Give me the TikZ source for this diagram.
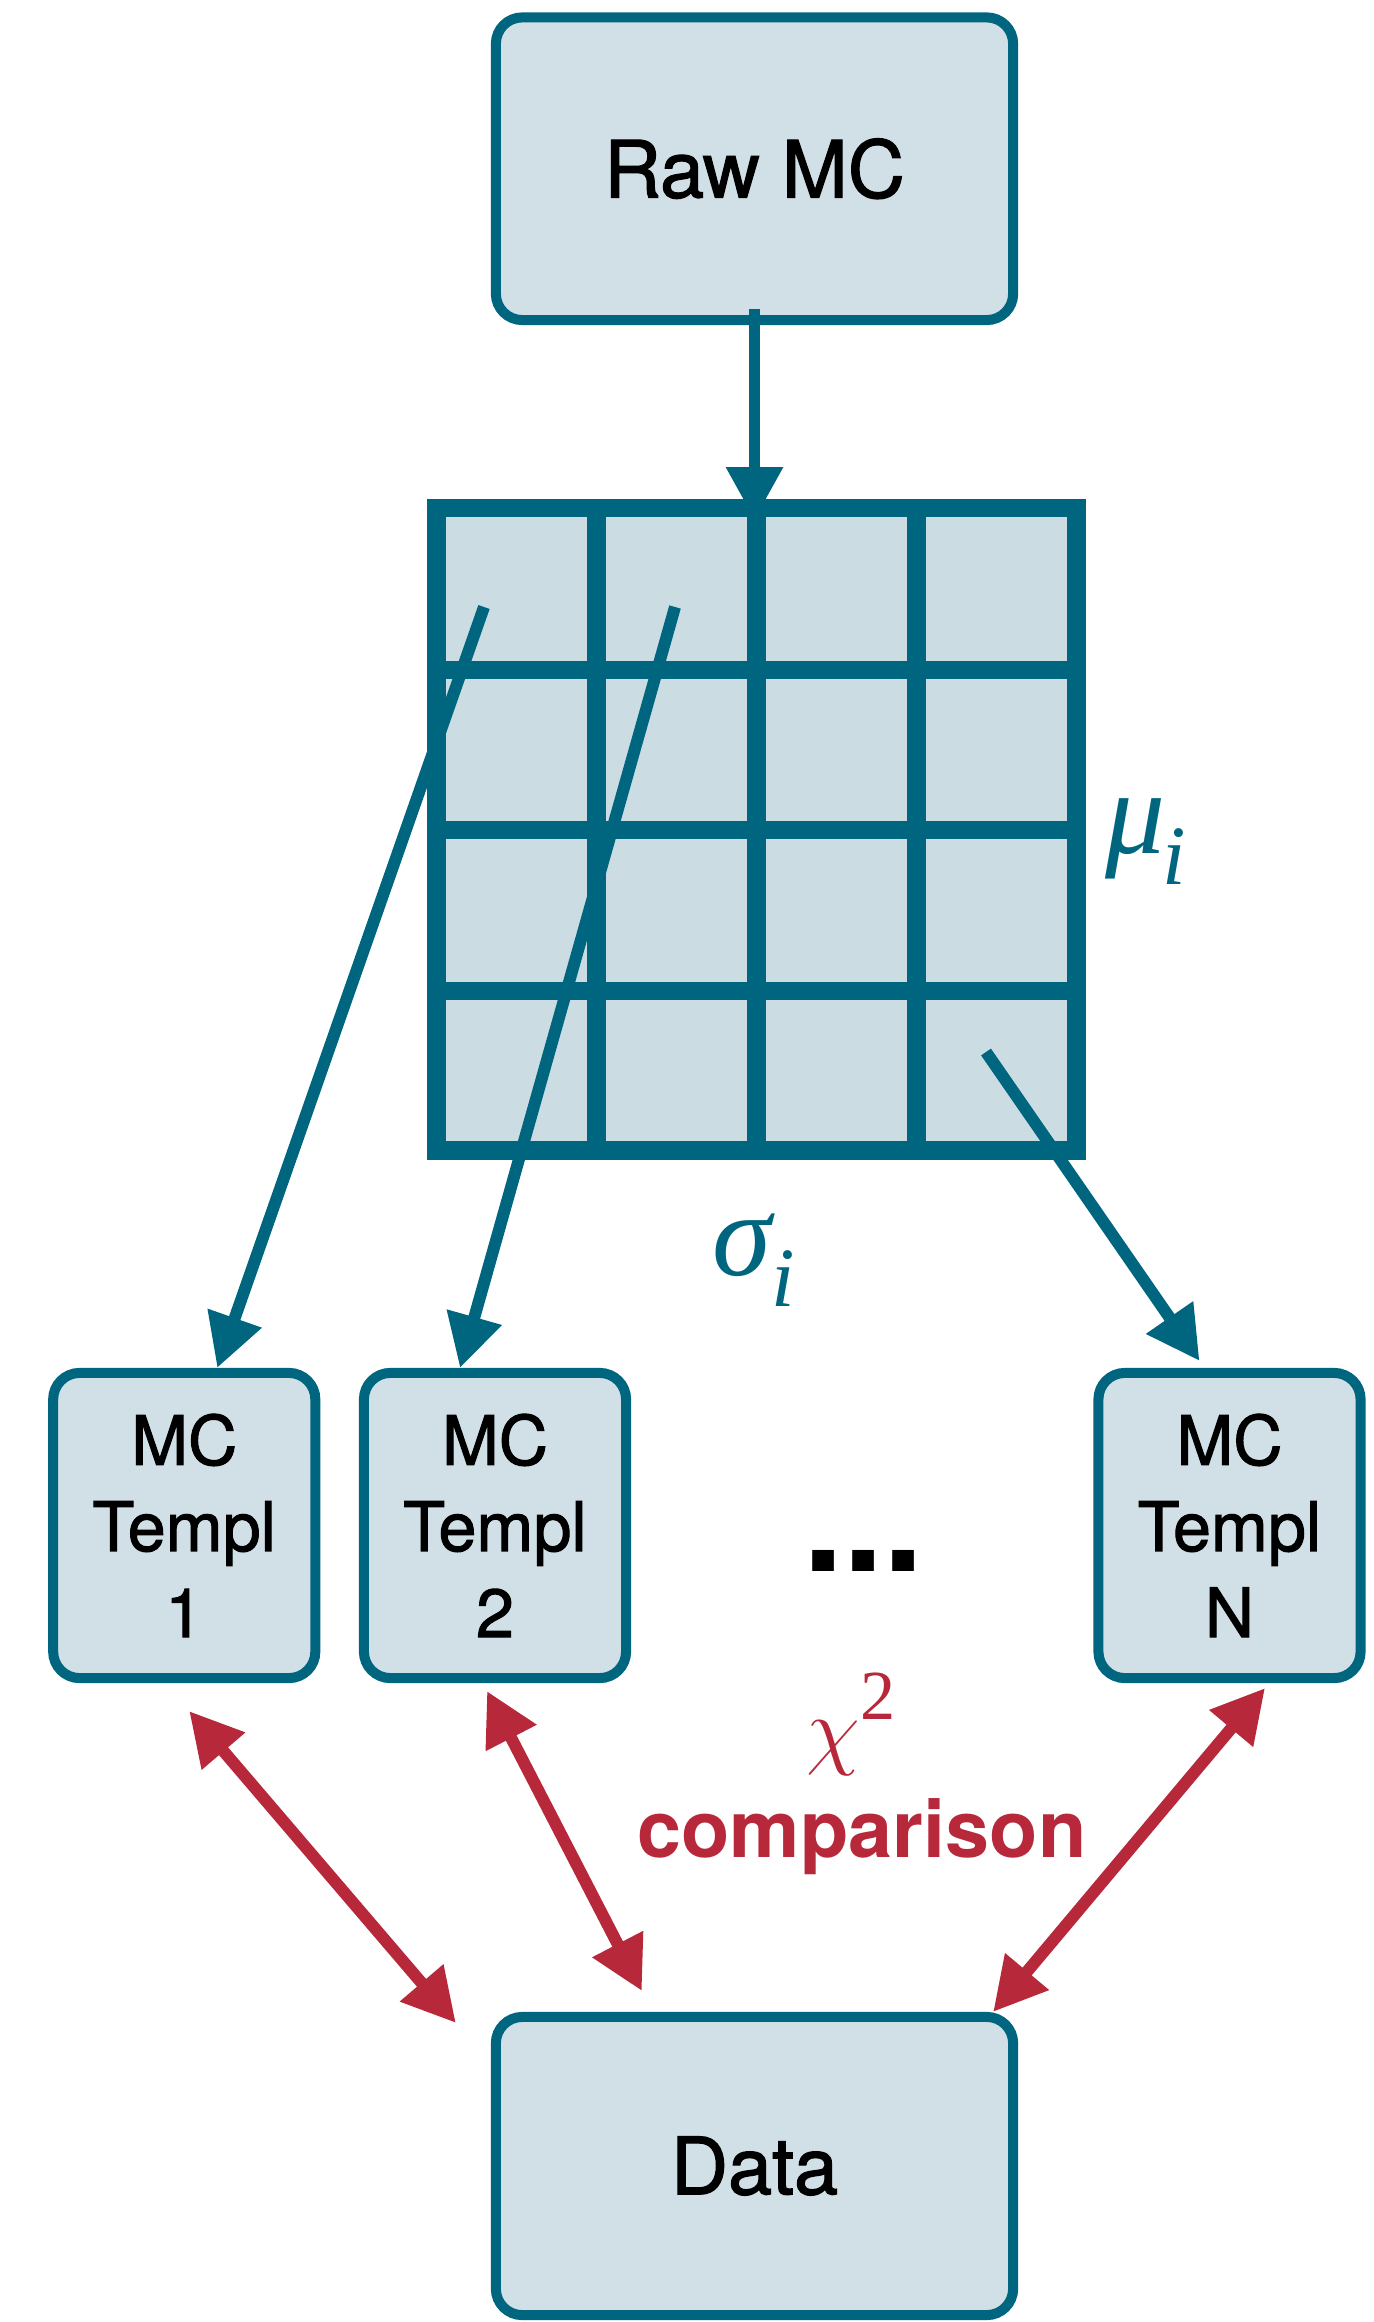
\documentclass[tikz,border=0pt]{standalone}
\usepackage{fontspec}
\setmainfont{TeX Gyre Heros}
\newfontfamily\medfont{TeX Gyre Heros}[FakeBold=1.5]
\newfontfamily\grk{Liberation Serif}
\usetikzlibrary{arrows.meta,calc}
\definecolor{teal1}{HTML}{00667F}
\definecolor{boxfill}{HTML}{D0E0E6}
\definecolor{gridfill}{HTML}{CBDDE2}
\definecolor{red1}{HTML}{B7293A}
\begin{document}
\begin{tikzpicture}[x=0.01cm,y=-0.01cm,
 box/.style={draw=teal1, fill=boxfill, line width=2.85pt, rounded corners=7.5pt, inner sep=0pt},
 bigbox/.style={box, minimum width=5.17cm, minimum height=3.025cm, font=\medfont\fontsize{22.5}{27}\selectfont},
 tbox/.style={box, minimum width=2.62cm, minimum height=3.05cm, align=center, font=\medfont\fontsize{19.4}{24.5}\selectfont},
 tarrow/.style={draw=teal1, line width=3.4pt, -{Triangle[length=15pt,width=15.4pt]}},
 rarrow/.style={draw=red1, line width=3.4pt, {Triangle[length=15pt,width=15.4pt]}-{Triangle[length=15pt,width=15.4pt]}},
 gridline/.style={draw=teal1, line width=5.4pt, line cap=rect},
 greek/.style={text=teal1, inner sep=0pt, anchor=base west, font=\fontsize{34}{34}\selectfont\grk\itshape},
]
\useasboundingbox (0,0) rectangle (1374,2322);
% boxes
\node[bigbox] (raw) at (754.5,168.75) {Raw MC};
\node[bigbox, minimum height=2.98cm] (data) at (754.5,2166) {Data};
\node[tbox] (t1) at (184.25,1525.5) {MC\\Templ\\1};
\node[tbox] (t2) at (495,1525.5) {MC\\Templ\\2};
\node[tbox] (tn) at (1229.5,1525.5) {MC\\Templ\\N};
% grid
\node[fill=gridfill, minimum width=6.4cm, minimum height=6.42cm, inner sep=0pt, outer sep=0pt] (grid) at (756,829) {};
\draw[tarrow] ($(raw.south)+(0,-16)$) -- ($(raw.south |- grid.north)+(0,12)$);
\foreach \x in {436,596,756,916,1076} \draw[gridline] (\x,508) -- (\x,1150);
\foreach \y in {508,670,830,991,1150} \draw[gridline] (436,\y) -- (1076,\y);
% teal arrows
\coordinate (s1) at (484,607);
\coordinate (s2) at (675,607);
\coordinate (s3) at (986,1052);
\draw[tarrow] (s1) -- ($(t1.north)+(33,0)$);
\draw[tarrow] (s2) -- ($(t2.north)+(-35,0)$);
\draw[tarrow] (s3) -- ($(tn.north)+(-30,-7)$);
% red arrows
\draw[rarrow] ($(t1.south)+(5,28)$) -- ($(data.north west)+(-35,11)$);
\draw[rarrow] ($(t2.south)+(-8,8)$) -- ($(data.north west)+(151,-21)$);
\draw[rarrow] ($(tn.south)+(35.5,5)$) -- ($(data.north east)+(-25,0)$);
% labels
\node[greek] (mu) at (1105,853) {μ\kern-1pt\raisebox{-9pt}{\fontsize{24}{24}\selectfont i}};
\node[greek] (sigma) at (712,1275) {σ\raisebox{-9pt}{\fontsize{24}{24}\selectfont i}};
\node[text=red1, inner sep=0pt, anchor=base west, font=\fontsize{31}{31}\selectfont] (chi) at (806,1758) {$\chi$\raisebox{11pt}{\grk\fontsize{20}{20}\selectfont 2}};
\node[text=red1, inner sep=0pt, anchor=base, font=\fontsize{22.5}{27}\selectfont\bfseries] (cmp) at (862,1857) {comparison};
\node[inner sep=0pt, anchor=base west, font=\fontsize{41}{41}\selectfont\bfseries] (dots) at (803,1571) {...};
\end{tikzpicture}
\end{document}
